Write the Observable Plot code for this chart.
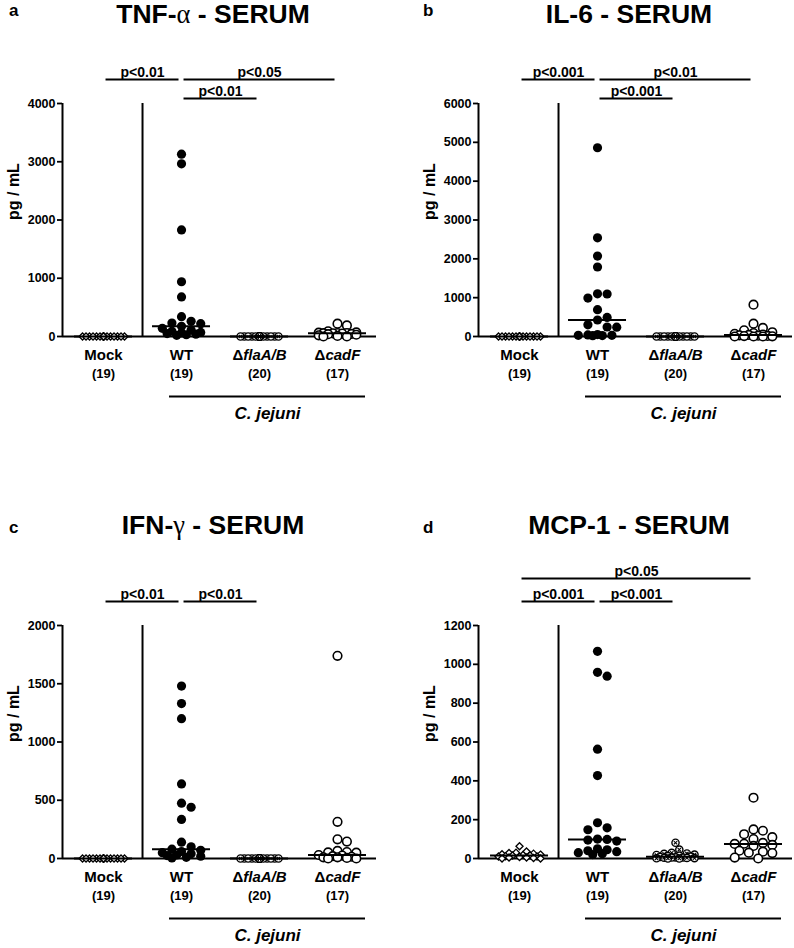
<!DOCTYPE html>
<html><head><meta charset="utf-8">
<script src="https://cdn.jsdelivr.net/npm/d3@7"></script>
<script src="https://cdn.jsdelivr.net/npm/@observablehq/plot@0.6"></script>
<style>
body{margin:0;background:#fff;font-family:"Liberation Sans",Arial,sans-serif;}
#page{position:relative;width:794px;height:948px;overflow:hidden;background:#fff;}
.panel{position:absolute;}
.title{position:absolute;font-weight:bold;font-size:26.5px;line-height:1;white-space:nowrap;transform:translateX(-50%);color:#000;}
.sym{font-family:"Liberation Serif","DejaVu Serif",serif;font-weight:normal;}
.letter{position:absolute;font-weight:bold;font-size:17px;line-height:1;color:#000;}
</style></head><body><div id="page"></div>
<script>
// ---------- data ----------
const groups = ["Mock", "WT", "ΔflaA/B", "ΔcadF"];
const groupCounts = [19, 19, 20, 17];
const speciesLabel = "C. jejuni";
const yLabel = "pg / mL";

// a: TNF-alpha
const tnfTitle = ["TNF-", "α", " - SERUM"];
const tnfMock = [0,0,0,0,0,0,0,0,0,0,0,0,0,0,0,0,0,0,0];
const tnfWT = [3130, 2965, 1830, 940, 680, 340, 260, 230, 220, 175, 140, 110, 90, 70, 60, 50, 40, 30, 20];
const tnfFla = [0,0,0,0,0,0,0,0,0,0,0,0,0,0,0,0,0,0,0,0];
const tnfCad = [220, 190, 90, 70, 65, 60, 58, 57, 55, 50, 45, 40, 30, 20, 10, 0, 0];
const tnfTicks = [0, 1000, 2000, 3000, 4000];
const tnfSig = [["Mock", "WT", "p<0.01", 1], ["WT", "ΔcadF", "p<0.05", 1], ["WT", "ΔflaA/B", "p<0.01", 0]];

// b: IL-6
const il6Title = ["IL-6 - SERUM"];
const il6Mock = [0,0,0,0,0,0,0,0,0,0,0,0,0,0,0,0,0,0,0];
const il6WT = [4860, 2540, 2070, 1790, 1100, 1095, 990, 690, 490, 425, 300, 245, 240, 50, 40, 30, 30, 25, 20];
const il6Fla = [0,0,0,0,0,0,0,0,0,0,0,0,0,0,0,0,0,0,0,0];
const il6Cad = [820, 330, 220, 160, 110, 90, 70, 50, 40, 30, 20, 15, 10, 5, 0, 0, 0];
const il6Ticks = [0, 1000, 2000, 3000, 4000, 5000, 6000];
const il6Sig = [["Mock", "WT", "p<0.001", 1], ["WT", "ΔcadF", "p<0.01", 1], ["WT", "ΔflaA/B", "p<0.001", 0]];

// c: IFN-gamma
const ifnTitle = ["IFN-", "γ", " - SERUM"];
const ifnMock = [0,0,0,0,0,0,0,0,0,0,0,0,0,0,0,0,0,0,0];
const ifnWT = [1480, 1330, 1200, 640, 475, 440, 335, 140, 100, 80, 70, 60, 50, 40, 30, 25, 20, 10, 5];
const ifnFla = [0,0,0,0,0,0,0,0,0,0,0,0,0,0,0,0,0,0,0,0];
const ifnCad = [1740, 315, 165, 145, 65, 55, 52, 50, 30, 25, 20, 15, 10, 10, 5, 0, 0];
const ifnTicks = [0, 500, 1000, 1500, 2000];
const ifnSig = [["Mock", "WT", "p<0.01", 1], ["WT", "ΔflaA/B", "p<0.01", 1]];

// d: MCP-1
const mcpTitle = ["MCP-1 - SERUM"];
const mcpMock = [63, 36, 30, 28, 25, 22, 20, 18, 15, 15, 12, 10, 10, 8, 5, 5, 3, 0, 0];
const mcpWT = [1067, 959, 939, 563, 427, 184, 158, 148, 100, 98, 95, 90, 50, 45, 40, 35, 30, 25, 20];
const mcpFla = [81, 46, 29, 26, 24, 20, 18, 15, 12, 10, 8, 6, 5, 5, 4, 3, 2, 1, 0, 0];
const mcpCad = [313, 150, 143, 125, 110, 100, 80, 76, 75, 70, 65, 40, 35, 30, 28, 5, 0];
const mcpTicks = [0, 200, 400, 600, 800, 1000, 1200];
const mcpSig = [["Mock", "ΔcadF", "p<0.05", 2], ["Mock", "WT", "p<0.001", 1], ["WT", "ΔflaA/B", "p<0.001", 1]];

// ---------- layout ----------
const W = 397, H = 426, MT = 103, MB = 90, FW = 314, FH = 233;
const xDomain = [-0.526, 3.5];
const pxPerX = FW / (xDomain[1] - xDomain[0]);
const tierPx = [5, 24, 47];
const markerD = [7, 9.6, 7.6, 9.4];
const FONT = '"Liberation Sans", Arial, Helvetica, sans-serif';

// column-scatter (beeswarm-like) horizontal offsets, in pixels
function swarm(values, d, maxOff, pxPerVal) {
  const idx = values.map((v, i) => i).sort((a, b) => values[b] - values[a]);
  const step = d / 2;
  const cands = [0];
  for (let k = 1; k * step <= maxOff + 1e-9; k++) cands.push(k * step, -k * step);
  const placed = [];
  const offs = new Array(values.length);
  for (const i of idx) {
    const py = values[i] * pxPerVal;
    let best = 0, bestScore = -Infinity;
    for (const c of cands) {
      let mind = Infinity;
      for (const p of placed) { const dd = Math.hypot(p.x - c, p.y - py); if (dd < mind) mind = dd; }
      if (mind >= d * 0.97) { best = c; break; }
      if (mind > bestScore + 1e-6) { bestScore = mind; best = c; }
    }
    placed.push({x: best, y: py});
    offs[i] = best;
  }
  return offs;
}

function makePanel(cfg) {
  const ymax = d3.max(cfg.ticks);
  const pxPerVal = FH / ymax;
  const rows = [];
  cfg.series.forEach((vals, gi) => {
    const offs = swarm(vals, markerD[gi], 22, pxPerVal);
    vals.forEach((v, k) => rows.push({g: gi, v, x: gi + offs[k] / pxPerX}));
  });
  const medians = cfg.series.map((vals, gi) => ({gi, m: d3.median(vals)}));
  const gIndex = name => groups.indexOf(name);
  const sepX = (gIndex("Mock") + gIndex("WT")) / 2;

  const marks = [
    Plot.ruleY([0], {strokeWidth: 2}),
    Plot.ruleX([xDomain[0]], {strokeWidth: 2}),
    Plot.ruleX([sepX], {strokeWidth: 2}),
    Plot.axisY(cfg.ticks, {tickSize: 5, tickPadding: 2, tickFormat: d3.format("d"), strokeWidth: 1.8, label: null, fontSize: 12.5}),
    Plot.text([yLabel], {frameAnchor: "left", rotate: -90, dx: -49, fontSize: 16, lineAnchor: "middle"}),
    // dots
    Plot.dot(rows.filter(r => r.g === 0), {x: "x", y: "v", symbol: "diamond2", r: 3.2, fill: "white", stroke: "black", strokeWidth: 1.3}),
    Plot.dot(rows.filter(r => r.g === 1), {x: "x", y: "v", r: 4.6, fill: "black"}),
    Plot.dot(rows.filter(r => r.g === 2), {x: "x", y: "v", r: 3.6, fill: "white", stroke: "black", strokeWidth: 1.4}),
    Plot.dot(rows.filter(r => r.g === 2), {x: "x", y: "v", symbol: "times", r: 1.7, stroke: "black", strokeWidth: 1.1}),
    Plot.dot(rows.filter(r => r.g === 3), {x: "x", y: "v", r: 4.3, fill: "white", stroke: "black", strokeWidth: 1.6}),
    // medians
    Plot.ruleY(medians, {y: "m", x1: "gi", x2: "gi", insetLeft: -29, insetRight: -29, strokeWidth: 2}),
    // category labels
    Plot.text(groups, {x: (d, i) => i, y: () => 0, text: d => d, dy: 19, fontSize: 15, lineAnchor: "middle"}),
    Plot.text(groupCounts, {x: (d, i) => i, y: () => 0, text: d => `(${d})`, dy: 37, fontSize: 13, lineAnchor: "middle"}),
    // species bracket
    Plot.ruleY([speciesLabel], {y: () => 0, x1: () => gIndex("WT"), x2: () => gIndex("ΔcadF"), insetLeft: -12, insetRight: -28, dy: 60, strokeWidth: 2}),
    Plot.text([speciesLabel], {x: () => (gIndex("WT") + gIndex("ΔcadF")) / 2, y: () => 0, text: d => d, dx: 8, dy: 77, fontSize: 17, fontStyle: "italic", lineAnchor: "middle"})
  ];
  // significance bars, one pair of marks per tier
  [0, 1, 2].forEach(t => {
    const sub = cfg.sig.filter(s => s[3] === t);
    if (!sub.length) return;
    marks.push(Plot.ruleY(sub, {y: () => ymax, x1: s => gIndex(s[0]), x2: s => gIndex(s[1]), insetLeft: 2.5, insetRight: 2.5, dy: -tierPx[t], strokeWidth: 2}));
    marks.push(Plot.text(sub, {x: s => (gIndex(s[0]) + gIndex(s[1])) / 2, y: () => ymax, text: s => s[2], dy: -tierPx[t] - 3, lineAnchor: "bottom", fontSize: 14}));
  });

  const svg = Plot.plot({
    width: W, height: H,
    marginTop: MT, marginBottom: MB, marginLeft: cfg.ml, marginRight: W - cfg.ml - FW,
    x: {domain: xDomain, axis: null},
    y: {domain: [0, ymax]},
    style: {fontFamily: FONT, fontWeight: "bold", fontSize: "12px", background: "transparent", overflow: "visible", color: "black"},
    marks
  });
  // Δ upright, gene name italic
  svg.querySelectorAll("text").forEach(t => {
    const s = t.textContent;
    if (s.startsWith("Δ")) {
      t.textContent = "";
      const a = document.createElementNS("http://www.w3.org/2000/svg", "tspan");
      a.textContent = "Δ"; a.setAttribute("font-style", "normal");
      const b = document.createElementNS("http://www.w3.org/2000/svg", "tspan");
      b.textContent = s.slice(1); b.setAttribute("font-style", "italic");
      t.appendChild(a); t.appendChild(b);
    }
  });
  return svg;
}

const page = document.getElementById("page");
const panels = [
  {letter: "a", title: tnfTitle, series: [tnfMock, tnfWT, tnfFla, tnfCad], ticks: tnfTicks, sig: tnfSig, left: 0, top: 0, ml: 62},
  {letter: "b", title: il6Title, series: [il6Mock, il6WT, il6Fla, il6Cad], ticks: il6Ticks, sig: il6Sig, left: 397, top: 0, ml: 81},
  {letter: "c", title: ifnTitle, series: [ifnMock, ifnWT, ifnFla, ifnCad], ticks: ifnTicks, sig: ifnSig, left: 0, top: 522, ml: 62},
  {letter: "d", title: mcpTitle, series: [mcpMock, mcpWT, mcpFla, mcpCad], ticks: mcpTicks, sig: mcpSig, left: 397, top: 522, ml: 81}
];
panels.forEach(p => {
  const div = document.createElement("div");
  div.className = "panel";
  div.style.left = p.left + "px"; div.style.top = p.top + "px";
  div.appendChild(makePanel(p));
  page.appendChild(div);

  const title = document.createElement("div");
  title.className = "title";
  title.style.left = (p.left + p.ml + FW / 2 - 6) + "px";
  title.style.top = (p.top === 0 ? 1 : p.top - 10) + "px";
  p.title.forEach((part, i) => {
    const sp = document.createElement("span");
    sp.textContent = part;
    if (i === 1) sp.className = "sym";
    title.appendChild(sp);
  });
  page.appendChild(title);

  const letter = document.createElement("div");
  letter.className = "letter";
  letter.textContent = p.letter;
  letter.style.left = (p.left === 0 ? 9 : p.left + 26) + "px";
  letter.style.top = (p.top === 0 ? 2 : p.top - 3) + "px";
  page.appendChild(letter);
});
</script>
</body></html>
